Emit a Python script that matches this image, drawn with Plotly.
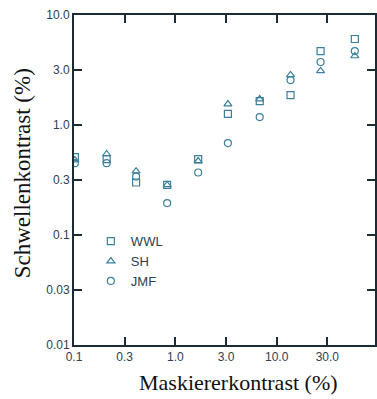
import numpy as np
import plotly.graph_objects as go

# Masker contrast (%) for each measurement column
masker = [0.102, 0.21, 0.41, 0.83, 1.68, 3.3, 6.8, 13.7, 27.1, 59.0]

# Threshold contrast (%) per observer
wwl = [0.51, 0.49, 0.30, 0.285, 0.49, 1.26, 1.65, 1.87, 4.7, 6.05]
sh = [0.48, 0.545, 0.38, 0.285, 0.47, 1.55, 1.72, 2.85, 3.1, 4.24]
jmf = [0.45, 0.45, 0.34, 0.195, 0.37, 0.685, 1.18, 2.56, 3.74, 4.7]

x_tickvals = [0.1, 0.316, 1.0, 3.16, 10.0, 31.6]
x_ticktext = ["0.1", "0.3", "1.0", "3.0", "10.0", "30.0"]
y_tickvals = [0.01, 0.0316, 0.1, 0.316, 1.0, 3.16, 10.0]
y_ticktext = ["0.01", "0.03", "0.1", "0.3", "1.0", "3.0", "10.0"]

series = [
    ("WWL", wwl, "square-open"),
    ("SH", sh, "triangle-up-open"),
    ("JMF", jmf, "circle-open"),
]

mcolor = "#3b7f9c"
axcolor = "#1d2b35"
tickfont = dict(family="Liberation Sans, Arial, sans-serif", size=12, color="#2c3e50")
serif = "Liberation Serif, Times New Roman, serif"

fig = go.Figure()
for name, vals, sym in series:
    fig.add_trace(go.Scatter(
        x=masker, y=vals, mode="markers", name=name,
        marker=dict(symbol=sym, size=7, color=mcolor, line=dict(width=1.2, color=mcolor)),
    ))

fig.update_layout(
    width=377, height=399,
    margin=dict(l=74, r=0, t=15, b=54),
    paper_bgcolor="white", plot_bgcolor="white",
    showlegend=True,
    legend=dict(
        x=0.056, y=0.36, xanchor="left", yanchor="top",
        bgcolor="rgba(0,0,0,0)",
        font=dict(family="Liberation Sans, Arial, sans-serif", size=13, color="#2c3e50"),
        itemwidth=30, tracegroupgap=0,
    ),
    annotations=[
        dict(text="Maskiererkontrast (%)", xref="paper", yref="paper",
             x=0.545, y=-0.115, xanchor="center", yanchor="middle", showarrow=False,
             font=dict(family=serif, size=22, color="#111111")),
        dict(text="Schwellenkontrast (%)", xref="paper", yref="paper",
             x=-0.172, y=0.521, xanchor="center", yanchor="middle", showarrow=False,
             textangle=-90, font=dict(family=serif, size=23, color="#111111")),
    ],
)
fig.update_xaxes(
    type="log", range=[-1, 1.97],
    tickvals=x_tickvals, ticktext=x_ticktext,
    ticks="inside", ticklen=8, tickwidth=1.5, tickcolor=axcolor,
    showline=True, linecolor=axcolor, linewidth=2, mirror="ticks",
    showgrid=False, zeroline=False, tickfont=tickfont,
)
fig.update_yaxes(
    type="log", range=[-2, 1],
    tickvals=y_tickvals, ticktext=y_ticktext,
    ticks="inside", ticklen=8, tickwidth=1.5, tickcolor=axcolor,
    showline=True, linecolor=axcolor, linewidth=2, mirror="ticks",
    showgrid=False, zeroline=False, tickfont=tickfont,
)

fig.write_html(
    "out.html",
    config={"displayModeBar": False},
    post_script="document.body.style.margin='0';document.body.style.overflow='hidden';",
)
